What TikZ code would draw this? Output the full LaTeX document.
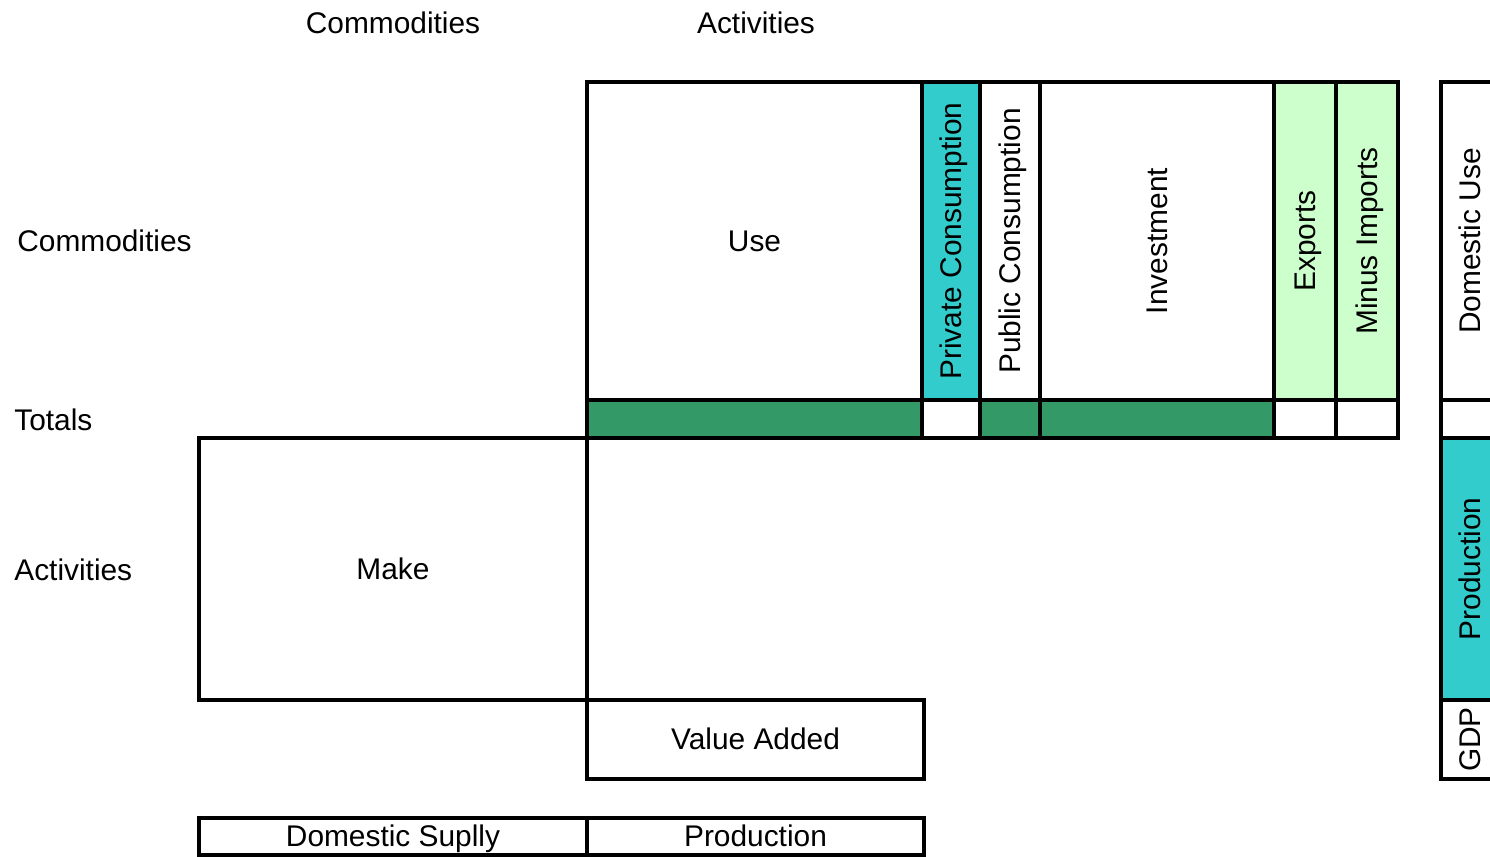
\documentclass[tikz,border=0pt]{standalone}
\usepackage{fontspec}
\setmainfont{Liberation Sans}

\definecolor{teal}{HTML}{33CCCC}
\definecolor{darkgreen}{HTML}{339966}
\definecolor{lightgreen}{HTML}{CCFFCC}

\tikzset{
  cell/.style={draw, line width=2.7pt, inner sep=0pt, text height=12pt, text depth=0.5pt,
    font=\fontsize{17}{20}\selectfont},
  vcell/.style={cell, rotate=90},
  lbl/.style={inner sep=0pt, font=\fontsize{17}{20}\selectfont}
}

\begin{document}
\begin{tikzpicture}[x=0.02cm, y=-0.02cm]
  \useasboundingbox (0,0) rectangle (1490,857);
  \clip (0,0) rectangle (1490,857);

  % headings
  \node[lbl] (hcom) at (393,23) {Commodities};
  \node[lbl] (hact) at (756,23) {Activities};
  \node[lbl, anchor=west] (rcom) at (17,241) {Commodities};
  \node[lbl, anchor=west] (rtot) at (14,420) {Totals};
  \node[lbl, anchor=west] (ract) at (14,570) {Activities};

  % use matrix and final demand
  \node[cell, minimum width=6.7cm, minimum height=6.36cm] (use) at (754.5,241) {Use};
  \node[vcell, fill=teal, minimum width=6.36cm, minimum height=1.16cm] (pcons) at (951,241) {Private Consumption};
  \node[vcell, minimum width=6.36cm, minimum height=1.2cm] (gcons) at (1010,241) {Public Consumption};
  \node[vcell, minimum width=6.36cm, minimum height=4.68cm] (inv) at (1157,241) {Investment};
  \node[vcell, fill=lightgreen, minimum width=6.36cm, minimum height=1.24cm] (exp) at (1305,241) {Exports};
  \node[vcell, fill=lightgreen, minimum width=6.36cm, minimum height=1.24cm] (imp) at (1367,241) {Minus Imports};

  % totals row
  \node[cell, fill=darkgreen, minimum width=6.7cm, minimum height=0.76cm] (tuse) at (754.5,419) {};
  \node[cell, minimum width=1.16cm, minimum height=0.76cm] (tpcons) at (951,419) {};
  \node[cell, fill=darkgreen, minimum width=1.2cm, minimum height=0.76cm] (tgcons) at (1010,419) {};
  \node[cell, fill=darkgreen, minimum width=4.68cm, minimum height=0.76cm] (tinv) at (1157,419) {};
  \node[cell, minimum width=1.24cm, minimum height=0.76cm] (texp) at (1305,419) {};
  \node[cell, minimum width=1.24cm, minimum height=0.76cm] (timp) at (1367,419) {};

  % make matrix and value added
  \node[cell, minimum width=7.76cm, minimum height=5.24cm] (make) at (393,569) {Make};
  \node[cell, minimum width=6.74cm, minimum height=1.58cm] (va) at (755.5,739.5) {Value Added};

  % supply totals
  \node[cell, minimum width=7.76cm, minimum height=0.74cm] (dsup) at (393,836.5) {Domestic Suplly};
  \node[cell, minimum width=6.74cm, minimum height=0.74cm] (prod) at (755.5,836.5) {Production};

  % right hand column
  \node[vcell, minimum width=6.36cm, minimum height=1.16cm] (duse) at (1470,241) {Domestic Use};
  \node[cell, minimum width=1.16cm, minimum height=0.76cm] (dtot) at (1470,419) {};
  \node[vcell, fill=teal, minimum width=5.24cm, minimum height=1.16cm] (dprod) at (1470,569) {Production};
  \node[vcell, minimum width=1.58cm, minimum height=1.16cm] (gdp) at (1470,739.5) {GDP};
\end{tikzpicture}
\end{document}
